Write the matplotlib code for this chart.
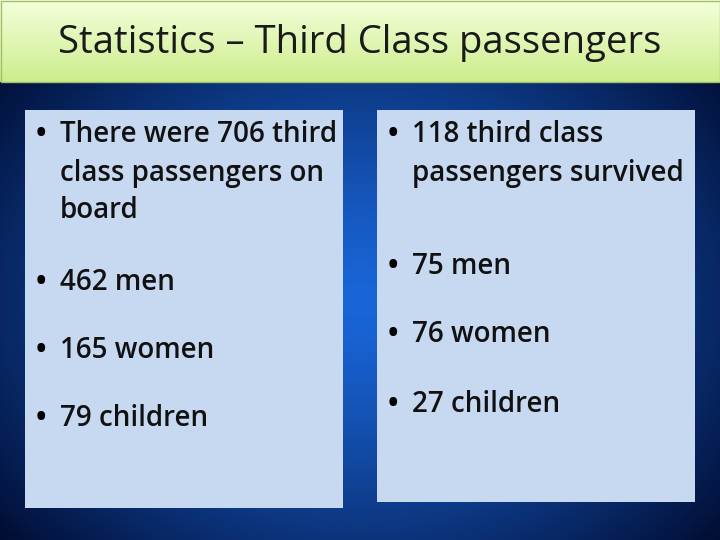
import matplotlib
matplotlib.use("Agg")
import matplotlib.pyplot as plt
import numpy as np
from matplotlib.patches import Rectangle

title = "Statistics \u2013 Third Class passengers"
left_items = [["There were 706 third", "class passengers on", "board"], ["462 men"], ["165 women"], ["79 children"]]
right_items = [["118 third class", "passengers survived"], ["75 men"], ["76 women"], ["27 children"]]
left_y = [135, 282, 350, 419]
right_y = [135, 266, 334, 404]
line_step = 38

W, H = 720, 540
fig = plt.figure(figsize=(7.2, 5.4), dpi=100)
ax = fig.add_axes([0, 0, 1, 1])
ax.set_xlim(0, W)
ax.set_ylim(H, 0)
ax.axis("off")

# radial blue background
yy, xx = np.mgrid[0:H, 0:W]
r = np.sqrt(((xx - 360) / 480) ** 2 + ((yy - 300) / 380) ** 2)
t = np.clip(r, 0, 1) ** 1.3
c0 = np.array([0.10, 0.40, 0.85])
c1 = np.array([0.0, 0.04, 0.18])
img = c0[None, None, :] * (1 - t[..., None]) + c1[None, None, :] * t[..., None]
ax.imshow(img, extent=[0, W, H, 0], zorder=0)

# title bar gradient
g = np.linspace(0, 1, 82)[:, None, None]
top = np.array([0.96, 1.0, 0.86])
bot = np.array([0.80, 0.93, 0.55])
bar = np.repeat(top * (1 - g) + bot * g, 2, axis=1)
ax.imshow(bar, extent=[0, W, 82, 0], zorder=1, aspect="auto")
ax.add_patch(Rectangle((0.5, 0.5), W - 1, 81, fill=False, ec="#9fbf6a", lw=1, zorder=2))
ax.text(360, 43, title, ha="center", va="center", fontsize=27.5, family="Open Sans", color="#1a1a1a", zorder=3)

ax.add_patch(Rectangle((25, 110), 318, 398, fc="#c6d9f1", ec="none", zorder=2))
ax.add_patch(Rectangle((377, 110), 318, 392, fc="#c6d9f1", ec="none", zorder=2))

def bullets(x, items, ys):
    for lines, y in zip(items, ys):
        ax.text(x, y, "\u2022", fontsize=20, fontweight="bold", va="center", family="Open Sans", zorder=3)
        for i, s in enumerate(lines):
            ax.text(x + 24, y + i * line_step, s, fontsize=20, fontweight="semibold", va="center",
                    family="Open Sans", color="#111111", zorder=3)

bullets(36, left_items, left_y)
bullets(388, right_items, right_y)

fig.savefig("out.png", dpi=100)
